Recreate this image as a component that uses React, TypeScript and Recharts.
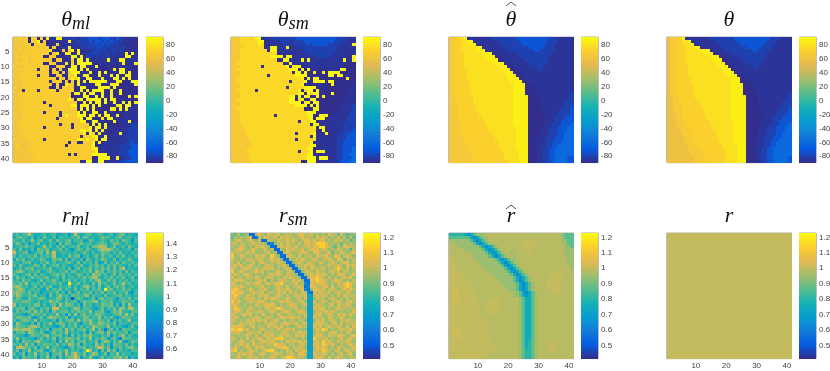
import { ReferenceArea, Scatter, ScatterChart, XAxis, YAxis } from "recharts";

// cell codes: each digit indexes a level list below
const thetaMlLevels = [-89, -86, -81, -73, -62, 58, 60, 62, 68, 88];
const thetaSmLevels = [-89, -86, -81, -73, -62, 58, 62, 66, 74, 88];
const thetaHatLevels = [-89, -86, -81, -73, -62, 59, 65, 71, 78, 85];
const rMlLevels = [0.6, 0.72, 0.84, 0.93, 0.99, 1.04, 1.1, 1.17, 1.26, 1.44];
const rSmLevels = [0.45, 0.55, 0.62, 0.7, 0.8, 0.87, 0.93, 0.99, 1.05, 1.13];
const rHatLevels = [0.58, 0.63, 0.68, 0.74, 0.8, 0.86, 0.94, 0.98, 1.0, 1.015];
const rTrueLevels = [1];

const thetaMlRows = [
  "7787808808 0911991212 2122233323 3322321110 1",
  "7768808890 8010111191 1222232332 3232221101 0",
  "6777880888 8001810111 1122222323 2322211010 1",
  "7777888878 8808011191 1112222232 2221212110 0",
  "7787888888 8890018089 0910112222 2122121010 1",
  "7778878888 8808900990 0911122221 2212111909 0",
  "7878888888 0088010119 9190221212 1211111990 1",
  "7778878888 8880881018 1991911111 1910199011 1",
  "7888878888 0188001918 1999990011 1011019001 9",
  "8777888888 8800888019 9099100910 0100010110 0",
  "7787888808 8808081199 9090900100 0019099000 0",
  "7778888888 8808808189 9910190091 9001099090 0",
  "7788888808 8800880188 9019900091 0091900990 0",
  "7788788888 8888088089 8910991009 1009919090 0",
  "7778888888 8808880808 0909099999 9100990019 9",
  "7778888888 8880800988 0910100990 0099900000 9",
  "8778888888 8800808888 0099010099 9909000100 0",
  "7770888808 8888088888 0090909999 0090190000 0",
  "7788888888 8888888880 9909099109 0090090000 0",
  "7788888888 8888888880 0009901909 0091000090 9",
  "7778888888 8888888898 0990999990 9099011000 0",
  "7778888888 0888888888 8009090990 9009009090 9",
  "7788888888 8808888889 9099909090 0000990990 1",
  "7778888888 8888888888 8090909000 0099090911 1",
  "7778888888 0888808888 8909009900 9010010101 1",
  "8777888888 8888808988 8999099090 9901900111 1",
  "7778888888 8888088888 8890990009 0990101111 1",
  "7788888888 8888888888 8899009911 0109111191 1",
  "7778888888 8888808880 8888809090 9000000112 2",
  "7788888888 0888888880 8888890990 9010011112 2",
  "7778888888 8888888888 8899890909 0001111122 2",
  "7777888888 8888888888 8889098090 1001191122 2",
  "7778788888 8888888888 8808889911 9011011222 2",
  "8777888888 0888888888 8998988909 9110111122 2",
  "7777778888 8888888808 8008889090 1111111223 2",
  "7877778888 8888888088 8888889011 1111122223 3",
  "7777778888 8888888888 8888889911 1111112223 3",
  "7777788888 8888888888 8888888911 1111122233 3",
  "7777778888 8888888808 0888889999 9111122233 3",
  "7677777888 8888888888 8888880099 9901911223 3",
  "7777777888 8888888888 8801990199 1111122333 3",
];

const thetaSmRows = [
  "7778888899 1112222222 2333333333 3333322211 1",
  "7778888889 9011112221 2222333333 3333222211 1",
  "6778888889 8001111221 1222232333 3322221111 9",
  "6777888888 8019911191 1112222222 2222211111 1",
  "6778888888 8809911111 1111222222 2222211101 1",
  "7778888888 8888801111 1111122222 2222111111 1",
  "7778888888 8889999199 1111111122 2221111100 9",
  "7778888888 8888800991 1119191111 1111111911 9",
  "7788888888 8888888019 0111111111 1111111100 0",
  "7778888888 0888888890 9990111111 1111111000 0",
  "7788888888 8888888889 9909091110 0011119900 0",
  "7778888888 8888888888 0990900900 9099990000 0",
  "7778888888 8808888888 8999900000 0099099000 0",
  "7788888888 8888888888 8889091990 0000000090 0",
  "7788888888 8888888880 8888910999 9099001000 0",
  "7778888888 8888888888 8889000101 0009000000 0",
  "7778888888 8888888808 8888999901 0000000001 1",
  "7788888808 8888888888 8890899090 0000000001 1",
  "7778888888 8888888888 8899098991 0009000011 1",
  "7778888888 8888888889 9090990090 9000000111 1",
  "7788888888 8888888889 9089009900 0000000011 1",
  "7778888888 8888888889 9990990990 0000001111 1",
  "7778888888 8888888888 8999909090 0000001111 2",
  "7788888888 8888888888 8888000990 0000011111 2",
  "7778888888 8888888888 8888899900 1000111112 2",
  "7778888888 8888088888 8888899009 9900111112 2",
  "7778888888 8888888888 8888889099 9011111122 2",
  "7778888888 8888888888 8808889900 0011111122 2",
  "7777888888 8888888888 8888880991 1111111222 2",
  "7777888888 8888888888 8888888909 9011111222 2",
  "7777788888 8888888888 8888888800 9001111222 3",
  "7777788888 8888888888 8088888901 1910112223 3",
  "7777778888 8888888888 8888880911 1111122233 3",
  "7777778888 8888888888 8088888811 1111122233 3",
  "7777777888 8888888888 8888889011 1111122333 3",
  "7777777888 8888888888 8888889911 1111122333 3",
  "7777778888 8888888888 8888899001 1111122333 4",
  "7777788888 8888888888 8808889099 9111122333 4",
  "7777778888 8888888888 8888899010 1111122334 4",
  "6777778888 8888888888 8888899919 9911122333 4",
  "7777777888 8888888888 8880099901 1111123334 4",
];

const thetaHatRows = [
  "6677891111 1111222222 2233333333 3332221111 1",
  "6677889911 1111112222 2223333333 3322221111 1",
  "6677888991 1111111222 2222333333 3322211111 1",
  "6677888889 9111111122 2222223333 3222211111 1",
  "6677888889 9911111112 2222222233 2222211111 1",
  "6677788888 8999001111 1122222222 2222111111 1",
  "6677788888 8899900111 1112222222 2221111111 1",
  "6677788888 8889990011 1111122222 2221111111 1",
  "6677788888 8888899900 1111112222 2211111111 1",
  "6677788888 8888889990 0111111122 2111111111 1",
  "6677778888 8888888999 0011111112 2111111111 1",
  "6677778888 8888888899 9001111111 1111111111 1",
  "6677778888 8888888889 9900111111 1111111111 1",
  "6677778888 8888888889 9990011111 1111111111 1",
  "6677777888 8888888888 9999001111 1111111111 1",
  "6677777888 8888888888 8999900111 1111111111 1",
  "6777777888 8888888888 8999900011 1111111111 1",
  "6677777888 8888888888 8999900011 1111111111 1",
  "6677777888 8888888888 8999900001 1111111111 2",
  "6677777788 8888888888 8999990001 1111111111 2",
  "6677777788 8888888888 8999990000 1111111112 2",
  "6667777788 8888888888 8999990000 1111111122 2",
  "6667777778 8888888888 8999990000 1111111122 2",
  "6667777778 8888888888 8999990000 0111111222 3",
  "6667777777 8888888888 8999990000 0111112222 3",
  "6667777777 8888888888 8999990000 0011112223 3",
  "6667777777 7888888888 8999990000 0111122233 3",
  "6667777777 7788888888 8999990000 0111122333 3",
  "6666777777 7788888888 8999990000 0111222333 4",
  "6666777777 7778888888 8899990000 1112223334 4",
  "6666777777 7778888888 8899990000 1112223334 4",
  "6666777777 7777888888 8899990000 1112223344 4",
  "6666677777 7777788888 8899990000 1122233344 4",
  "6666677777 7777788888 8899990001 1122233344 4",
  "6666667777 7777778888 8899990001 1122333444 4",
  "6666667777 7777778888 8899990001 1122334444 4",
  "6666666777 7777777888 8899990001 1223344444 4",
  "6666666777 7777777888 8889990001 1223344444 4",
  "6666666677 7777777788 8889990001 1223344444 4",
  "6666666677 7777777788 8889990001 1223344443 3",
  "6666666667 7777777778 8889990001 1223344443 3",
];

const thetaTrueRows = [
  "5667791111 1111222222 2233333333 3333222111 1",
  "5667788911 1111112222 2223333333 3332221111 1",
  "5667788891 1111111222 2222333333 3322211111 1",
  "5667778889 9011111122 2222223333 3222211111 1",
  "5667778888 8999011112 2222222233 2222111111 1",
  "5667778888 8899900111 1222222222 2221111111 1",
  "5667778888 8888999001 1112222222 2221111111 1",
  "5667778888 8888899900 1111122222 2211111111 1",
  "5667778888 8888889990 0111112222 2111111111 1",
  "5667777888 8888888999 0011111122 1111111111 1",
  "5667777888 8888888899 9001111112 1111111111 1",
  "5667777888 8888888889 9900111111 1111111111 1",
  "5667777888 8888888888 9990011111 1111111111 1",
  "5667777788 8888888888 8999001111 1111111111 1",
  "5667777788 8888888888 8999000111 1111111111 1",
  "5667777788 8888888888 8999900011 1111111111 1",
  "5667777778 8888888888 8999900001 1111111111 1",
  "5667777778 8888888888 8999900001 1111111111 1",
  "5667777778 8888888888 8999900001 1111111111 2",
  "5566777778 8888888888 8999990000 1111111111 2",
  "5566777777 8888888888 8999990000 1111111112 2",
  "5566777777 7888888888 8999990000 1111111122 2",
  "5566677777 7888888888 8999990000 1111111122 2",
  "5566677777 7788888888 8999990000 0111111222 3",
  "5566677777 7788888888 8999990000 0111112222 3",
  "5556677777 7778888888 8999990000 0011112223 3",
  "5556677777 7778888888 8999990000 0111122233 3",
  "5556667777 7777888888 8899990000 0111122333 3",
  "5556667777 7777888888 8899990000 0111222333 4",
  "5555666777 7777788888 8899990000 1112223334 4",
  "5555666777 7777788888 8899990000 1112223334 4",
  "5555566677 7777778888 8899990000 1112223344 4",
  "5555566677 7777778888 8899990000 1122233344 4",
  "5555556667 7777777888 8899990001 1122233444 4",
  "5555556667 7777777888 8899990001 1122334444 4",
  "5555555666 7777777788 8889990001 1122334444 4",
  "5555555666 6777777788 8889990001 1223344444 4",
  "5555555566 6677777778 8889990001 1223344444 4",
  "5555555566 6677777778 8889990001 1223344444 4",
  "5555555556 6667777778 8889990001 1223344444 3",
  "5555555556 6667777778 8889990001 1223344444 3",
];

const rMlRows = [
  "4535584334 5345334424 8434553454 3453466344 3",
  "3564435243 6435254435 4636534346 5534563453 4",
  "5436347356 3463644563 5452364345 4364536542 5",
  "4653524463 4354263653 3564453456 5346643543 4",
  "3454645334 7453546345 4634536677 7346345364 3",
  "5363435265 5634463532 4653643467 7764534452 5",
  "8445623456 3748345443 5346435346 5535363435 4",
  "5354454635 4547334364 5624534636 4453546343 5",
  "3646345346 5336563625 4352643546 5436253464 3",
  "4435563435 4635344564 3635453623 6354636445 4",
  "5364344653 6345635433 5463354645 3546454353 5",
  "3453656344 5463445362 4635463546 4636368344 3",
  "4675345463 3564354636 5345463756 3546453635 4",
  "5434563635 4345646353 4653537664 5346364453 5",
  "3645346454 5634536345 3546467743 5463546346 3",
  "4536453346 3546435463 5345354674 3646354535 4",
  "5464735453 6345463394 4635436374 5346357453 4",
  "6764534635 4563354463 5346745363 4635646345 3",
  "5676345453 2635463543 6354635463 9563546453 4",
  "6765463542 4354635263 4635463546 3546354632 5",
  "5764455634 4263574536 5546735443 6345563543 4",
  "4653364456 5344663540 4653346256 4554255463 5",
  "5546654353 4475643645 5246556735 5463346545 3",
  "7354454663 5346374665 3526453446 5563526374 4",
  "4556256435 4638845435 7635543246 3546376477 4",
  "3645564746 3526455635 4655473556 3246574435 5",
  "5443246554 6354735263 7356454665 4335564746 3",
  "4665563246 3576554625 3446635473 5463246554 4",
  "5346654735 4435263566 3746574465 4625453573 4",
  "3754435263 5473566354 6325475476 5546254435 5",
  "4655467763 5443246354 6353547655 4735443246 3",
  "6767776435 4625563746 3556357364 1463526554 4",
  "3556376546 3246454735 4435263566 3746454625 5",
  "5443246554 6735563526 3546574435 4625467354 3",
  "4735443246 3546254665 4635473546 5246316554 4",
  "3526554675 4435263746 3556354625 7635473246 5",
  "5463746254 6554635476 4625443746 3526554635 3",
  "3787554625 4735443246 3556354687 4625463566 4",
  "4625473556 3246454735 4435973526 3746254435 5",
  "5346254735 4625563746 8546357634 6254735443 4",
  "3526554625 4735263566 8625473246 3546574625 3",
];

const rSmRows = [
  "6575661178 7687786777 6788778676 7687758656 6",
  "5767678117 6877868787 7678777687 8767686757 5",
  "6787678768 1177687787 8767887878 8676878675 6",
  "7867767877 7612678687 7686887899 9867675767 6",
  "7678767687 8761178787 7867787889 9876576887 7",
  "6788767876 7867117687 8778678887 8767687675 7",
  "8777687867 6786711787 6778876887 6785768767 8",
  "9678767687 8769761178 7686777687 7876886787 6",
  "8767687778 7678786117 6878767876 7787688576 7",
  "7686767867 8767787611 6787687768 7678767886 7",
  "7878678767 6787677861 1677878767 6787787687 8",
  "8767887686 7878676787 1167868777 8676897686 7",
  "9678767787 8676787678 6116787687 7678786876 7",
  "7876887676 7678787687 7611678787 8767688767 8",
  "8677687787 6787676878 7761178898 7686767878 6",
  "7888767678 7857678776 8786118898 8767887676 7",
  "8767687788 6787889767 7867218788 8767687898 7",
  "7878767677 8676787686 7787128877 8868677898 6",
  "8987678767 7866787787 6778216887 8678767878 7",
  "9888767877 8677687868 7768721878 7786787687 6",
  "8987687768 7876787676 7877833787 8767686877 7",
  "8876787867 6878876787 6786833687 7678767686 7",
  "9787678778 8767678787 7678633867 8767787678 7",
  "8876767687 7888767678 8767833787 7678687787 6",
  "7987678767 6787898767 7867633878 8676787767 7",
  "7887687778 7678767887 6788733687 7878767676 8",
  "8767878676 8767687677 7677833788 6787687868 7",
  "7876767787 6787678878 8786733877 7687678767 6",
  "8767687878 7867876767 7677633687 8678767787 7",
  "7678778767 6778767887 7867833788 7767868677 7",
  "8888767867 7687878676 6787733878 6787787686 8",
  "9899786767 8767687787 8676633787 9867678778 7",
  "7887678778 6787767876 7787833687 7678867687 6",
  "7676787686 7878678787 6878733788 7687788767 8",
  "8767686778 7687899767 7767633977 7867678678 7",
  "7678767867 8878767687 8787833787 9787687787 6",
  "6778786877 7687988767 7678733887 9878767678 7",
  "7876787687 8767788986 7787633788 8767687767 8",
  "8967678776 7899767687 6878833787 9876786787 7",
  "7687878767 8767877678 7688733877 8767678678 6",
  "6787678786 7678767899 8777633788 7686787767 7",
];

const rHatRows = [
  "4444431356 6677777777 7777777777 7777777655 5",
  "5555555313 5667777777 7777778777 7777777655 5",
  "6666666531 3567777777 7777788777 7777777665 5",
  "7766666653 1356777777 7777888887 7777777765 5",
  "7776666666 5313567777 7777888887 7777777766 5",
  "7777766666 6531356777 7777788777 7777777766 6",
  "7777777666 6653135677 6777778777 7777777766 6",
  "8777777766 6665313567 7677777777 7777777776 6",
  "8777777776 6666653135 6677777777 7777777776 6",
  "8877777777 6666665313 5677777777 7777777776 6",
  "8877777777 7666666531 3567777777 7777777777 6",
  "8887777777 7766666653 1356777777 7777777777 6",
  "8887777777 7776666665 3135677777 7777777777 7",
  "8888777777 7777666666 5313567777 7778888777 7",
  "8888877777 7777766666 6531356777 7778888877 7",
  "8888887777 7777776666 6531356777 7788888877 7",
  "8888888777 7777777666 6653135677 7788888777 7",
  "8888888877 7777777766 6653135677 7788888777 7",
  "8898888877 7777777776 6653135677 7778888777 7",
  "8998888887 7777777777 6665313567 7777888777 7",
  "8998888887 7777777777 7665323567 7777777777 7",
  "8998888887 7777888777 7776533567 7777777777 7",
  "8998888888 7778888777 7776533567 7777777777 7",
  "8988888888 7788888777 7776533567 7777777777 7",
  "8888888888 7788888777 7776533567 7777777777 7",
  "8888888888 7788887777 7776533567 7777777777 7",
  "8888888888 7778877777 7776533567 7777777777 7",
  "8888888888 8777777777 7776533567 7777777777 7",
  "8888888888 8877777777 7776533567 7777777777 7",
  "8888888888 8887777777 7776533567 7777777777 7",
  "8898888888 8887777777 7776533567 7777777777 7",
  "8998888888 8887777777 7776533567 7777777777 7",
  "8999888888 8887777777 7776533567 7777777777 7",
  "8999888888 8887777777 7776533567 7777777777 7",
  "8899888888 8888777777 7776533567 7777777777 7",
  "8888888888 8888777777 7776534567 7778877777 7",
  "8888888888 8888777777 7776534567 7788877777 7",
  "8888888888 8888877777 7776534567 7788877777 7",
  "8888888888 8888877777 7776544567 7778777777 7",
  "8888888888 8887777777 7776544567 7777777777 7",
  "8888888888 8877777777 7776544567 7777777777 7",
];

const rTrueRow = "00000000000000000000000000000000000000000";
const rTrueRows = Array(41).fill(rTrueRow);

const heatTicks = [10, 20, 30, 40];
const rowTicks = [5, 10, 15, 20, 25, 30, 35, 40];
const thetaBarTicks = [-80, -60, -40, -20, 0, 20, 40, 60, 80];
const rMlBarTicks = [0.6, 0.7, 0.8, 0.9, 1, 1.1, 1.2, 1.3, 1.4];
const rBarTicks = [0.5, 0.6, 0.7, 0.8, 0.9, 1, 1.1, 1.2];

const parula = [
  [53, 42, 135],
  [5, 92, 225],
  [18, 125, 216],
  [7, 156, 207],
  [21, 177, 180],
  [89, 189, 140],
  [165, 190, 107],
  [225, 185, 82],
  [252, 206, 46],
  [249, 251, 14],
];

const colorAt = (t: number) => {
  const p = Math.min(Math.max(t, 0), 1) * (parula.length - 1);
  const i = Math.min(Math.floor(p), parula.length - 2);
  const f = p - i;
  const c = parula[i].map((v, k) => Math.round(v + (parula[i + 1][k] - v) * f));
  return `rgb(${c[0]},${c[1]},${c[2]})`;
};

const decode = (rows: string[], levels: number[], domain: number[]) =>
  rows.flatMap((row, i) => {
    const clean = row.replace(/ /g, "");
    const cells = clean.padEnd(41, clean[clean.length - 1]).slice(0, 41);
    return [...cells].map((c, j) => {
      const value = levels[Number(c)];
      return {
        x: j + 1,
        y: i + 1,
        value,
        color: colorAt((value - domain[0]) / (domain[1] - domain[0])),
      };
    });
  });

const PLOT_W = 124.5;
const PLOT_H = 125.6;
const tickStyle = { fontSize: 8, fontFamily: "Liberation Sans", fill: "#404040" };

const HeatCell = (props: any) => {
  const w = PLOT_W / 41;
  const h = PLOT_H / 41;
  return (
    <rect
      x={props.cx - w / 2}
      y={props.cy - h / 2}
      width={w + 0.2}
      height={h + 0.2}
      fill={props.payload.color}
      shapeRendering="crispEdges"
    />
  );
};

const HeatPanel = ({ rows, levels, domain, left, top, showX, showY }: any) => {
  const data = decode(rows, levels, domain);
  return (
    <div style={{ position: "absolute", left: left - 20, top: top - 4 }}>
      <ScatterChart
        width={PLOT_W + 24}
        height={PLOT_H + 20}
        margin={{ top: 4, right: 4, left: 0, bottom: 0 }}
      >
        <XAxis
          type="number"
          dataKey="x"
          domain={[0.5, 41.5]}
          ticks={heatTicks}
          interval={0}
          height={16}
          tick={showX ? tickStyle : false}
          tickSize={-2}
          tickMargin={6}
          stroke="#808080"
          strokeWidth={0.6}
        />
        <YAxis
          type="number"
          dataKey="y"
          domain={[0.5, 41.5]}
          reversed
          ticks={rowTicks}
          interval={0}
          width={20}
          tick={showY ? tickStyle : false}
          tickSize={-2}
          tickMargin={5.5}
          stroke="#808080"
          strokeWidth={0.6}
        />
        <Scatter data={data} shape={HeatCell} isAnimationActive={false} />
        <ReferenceArea
          x1={0.5}
          x2={41.5}
          y1={0.5}
          y2={41.5}
          fill="none"
          stroke="#8c8c8c"
          strokeWidth={0.7}
        />
      </ScatterChart>
    </div>
  );
};

const BarCell = (props: any) => {
  const h = PLOT_H / 64;
  return (
    <rect
      x={props.cx - 8.5}
      y={props.cy - h / 2}
      width={17}
      height={h + 0.2}
      fill={props.payload.color}
      shapeRendering="crispEdges"
    />
  );
};

const ColorBar = ({ domain, ticks, left, top }: any) => {
  const data = Array.from({ length: 64 }, (_, i) => ({
    x: 0,
    y: domain[0] + ((i + 0.5) / 64) * (domain[1] - domain[0]),
    color: colorAt((i + 0.5) / 64),
  }));
  return (
    <div style={{ position: "absolute", left, top: top - 4 }}>
      <ScatterChart
        width={17 + 30}
        height={PLOT_H + 8}
        margin={{ top: 4, right: 0, left: 0, bottom: 4 }}
      >
        <XAxis type="number" dataKey="x" domain={[-1, 1]} hide />
        <YAxis
          type="number"
          dataKey="y"
          orientation="right"
          domain={domain}
          ticks={ticks}
          interval={0}
          width={30}
          tick={tickStyle}
          tickSize={-2}
          tickMargin={5}
          stroke="#808080"
          strokeWidth={0.6}
        />
        <Scatter data={data} shape={BarCell} isAnimationActive={false} />
        <ReferenceArea
          x1={-1}
          x2={1}
          y1={domain[0]}
          y2={domain[1]}
          fill="none"
          stroke="#8c8c8c"
          strokeWidth={0.7}
        />
      </ScatterChart>
    </div>
  );
};

const Title = ({ main, sub, hatTop, center, baseline }: any) => (
  <div
    style={{
      position: "absolute",
      left: center - 60,
      top: baseline - 20,
      width: 120,
      height: 30,
      lineHeight: "28px",
      textAlign: "center",
      fontFamily: "Liberation Serif",
      fontStyle: "italic",
      fontSize: 22,
      color: "#111",
      whiteSpace: "nowrap",
    }}
  >
    {hatTop !== undefined && (
      <svg
        width={12}
        height={6}
        style={{ position: "absolute", left: 54, top: hatTop }}
      >
        <polyline points="1,5 6,1 11,5" fill="none" stroke="#222" strokeWidth={0.8} />
      </svg>
    )}
    {main}
    {sub && (
      <span style={{ fontSize: 18, position: "relative", top: 3 }}>{sub}</span>
    )}
  </div>
);

const thetaDomain = [-90, 90];
const rMlDomain = [0.52, 1.48];
const rDomain = [0.41, 1.224];

const TOP_ROW = 36.7;
const BOTTOM_ROW = 233.3;
const panels = [
  { rows: thetaMlRows, levels: thetaMlLevels, domain: thetaDomain, ticks: thetaBarTicks, left: 13.4, bar: 146, top: TOP_ROW, title: "θ", sub: "ml", showY: true },
  { rows: thetaSmRows, levels: thetaSmLevels, domain: thetaDomain, ticks: thetaBarTicks, left: 231, bar: 363.3, top: TOP_ROW, title: "θ", sub: "sm" },
  { rows: thetaHatRows, levels: thetaHatLevels, domain: thetaDomain, ticks: thetaBarTicks, left: 448.7, bar: 581.3, top: TOP_ROW, title: "θ", hatTop: -3.7 },
  { rows: thetaTrueRows, levels: thetaHatLevels, domain: thetaDomain, ticks: thetaBarTicks, left: 666.7, bar: 799.3, top: TOP_ROW, title: "θ" },
  { rows: rMlRows, levels: rMlLevels, domain: rMlDomain, ticks: rMlBarTicks, left: 13.4, bar: 146, top: BOTTOM_ROW, title: "r", sub: "ml", showX: true, showY: true },
  { rows: rSmRows, levels: rSmLevels, domain: rDomain, ticks: rBarTicks, left: 231, bar: 363.3, top: BOTTOM_ROW, title: "r", sub: "sm", showX: true },
  { rows: rHatRows, levels: rHatLevels, domain: rDomain, ticks: rBarTicks, left: 448.7, bar: 581.3, top: BOTTOM_ROW, title: "r", hatTop: 2.7, showX: true },
  { rows: rTrueRows, levels: rTrueLevels, domain: rDomain, ticks: rBarTicks, left: 666.7, bar: 799.3, top: BOTTOM_ROW, title: "r", showX: true },
];

export default function App() {
  return (
    <div style={{ position: "absolute", left: 0, top: 0, width: 830, height: 371, overflow: "hidden", background: "#fff", filter: "blur(0.35px)" }}>
      {panels.map((p, i) => (
        <div key={i}>
          <Title main={p.title} sub={p.sub} hatTop={p.hatTop} center={p.left + PLOT_W / 2} baseline={p.top - 12} />
          <HeatPanel rows={p.rows} levels={p.levels} domain={p.domain} left={p.left} top={p.top} showX={p.showX} showY={p.showY} />
          <ColorBar domain={p.domain} ticks={p.ticks} left={p.bar} top={p.top} />
        </div>
      ))}
    </div>
  );
}
